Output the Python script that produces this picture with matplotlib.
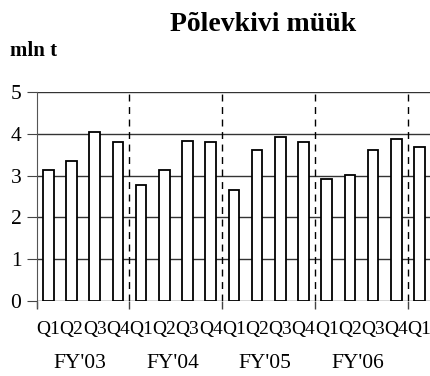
import matplotlib.pyplot as plt
import numpy as np

quarters = ["Q1", "Q2", "Q3", "Q4"] * 4 + ["Q1"]
years = ["FY'03", "FY'04", "FY'05", "FY'06"]
sales = [3.13, 3.36, 4.04, 3.80,
         2.78, 3.13, 3.84, 3.80,
         2.65, 3.61, 3.93, 3.80,
         2.93, 3.02, 3.61, 3.89,
         3.69]

plt.rcParams["font.family"] = "Liberation Serif"

fig = plt.figure(figsize=(4.30, 3.76), dpi=100)
ax = fig.add_axes([0.0853, 0.2003, 0.9147, 0.5542])

x = np.arange(len(sales))
ax.bar(x, sales, width=0.46, color="white", edgecolor="black", linewidth=1.3, zorder=3)

ax.set_xlim(-0.5, 16.45)
ax.set_ylim(0, 5)
ax.set_yticks(range(6))
ax.tick_params(axis="y", labelsize=15.5, length=7, width=0.8, color="#444444", pad=4)
ax.yaxis.grid(True, color="#333333", linewidth=1.0, zorder=1)

# year separators
for b in [3.5, 7.5, 11.5, 15.5]:
    ax.axvline(b, ymin=0, ymax=1, color="black", linewidth=1.0,
               linestyle=(0, (5, 4)), zorder=2)

ax.set_xticks([-0.5, 3.5, 7.5, 11.5, 15.5])
ax.set_xticklabels([])
ax.tick_params(axis="x", which="major", length=6, width=1.0, color="#444444")

xt = ax.get_xaxis_transform()
for i, q in enumerate(quarters):
    ax.text(x[i], -0.136, q, transform=xt, ha="center", va="center", fontsize=14)
for i, yr in enumerate(years):
    ax.text(4 * i + 1.35, -0.30, yr, transform=xt,
            ha="center", va="center", fontsize=15.5)

for side in ["top", "right", "bottom"]:
    ax.spines[side].set_visible(False)
ax.spines["left"].set_color("#555555")
ax.spines["left"].set_bounds(-0.15, 5)

fig.text(0.612, 0.936, "Põlevkivi müük", ha="center", va="center",
         fontsize=20, fontweight="bold")
fig.text(0.023, 0.864, "mln t", ha="left", va="center", fontsize=15, fontweight="bold")

fig.savefig("out.png", dpi=100)
